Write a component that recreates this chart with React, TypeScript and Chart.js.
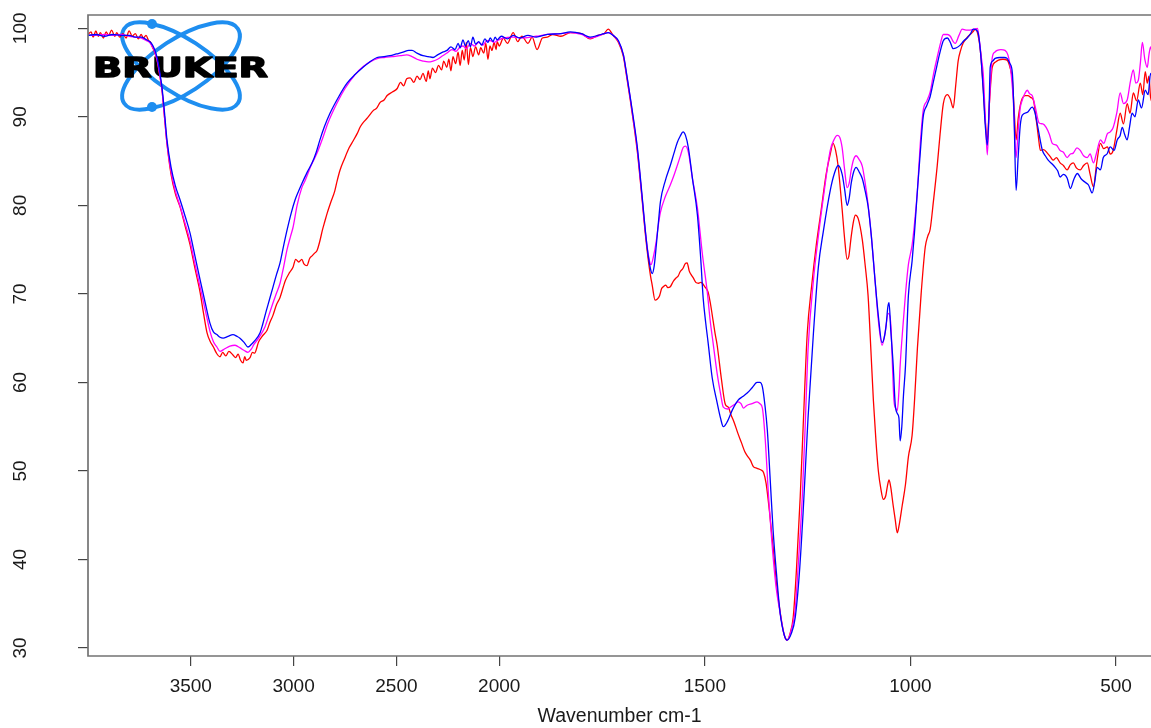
import React, { useEffect, useRef } from 'react';
import { Chart, registerables } from 'chart.js';

Chart.register(...registerables);

// ---------- data ----------
const xTickLabels = [3500, 3000, 2500, 2000, 1500, 1000, 500];
const yTickLabels = [30, 40, 50, 60, 70, 80, 90, 100];
const xTitle = 'Wavenumber cm-1';
const logoText = 'BRUKER';

// [wavenumber cm-1, transmittance %]
const bluePoints: [number, number][] = [
  [4000, 99.2], [3960, 99.3], [3920, 99.1], [3880, 99.3], [3840, 99.2], [3800, 99.2], [3770, 99.0], [3740, 99.0],
  [3715, 98.7], [3700, 98.5], [3689, 98.2], [3676, 97.6], [3664, 96.7], [3652, 95.2], [3640, 93.3], [3628, 90.5],
  [3616, 87.4], [3596, 84.3], [3575, 82.2], [3552, 80.6], [3528, 78.8], [3504, 76.9], [3480, 74.3], [3455, 71.6],
  [3430, 69.0], [3407, 66.7], [3390, 65.7], [3373, 65.4], [3358, 65.1], [3343, 65.0], [3319, 65.2], [3295, 65.4],
  [3275, 65.2], [3261, 65.0], [3240, 64.5], [3222, 64.0], [3205, 64.3], [3193, 64.6], [3163, 65.6], [3150, 66.6],
  [3134, 68.0], [3117, 69.4], [3100, 70.8], [3083, 72.2], [3066, 73.5], [3049, 75.4], [3032, 77.2], [3012, 79.1],
  [2993, 80.6], [2976, 81.6], [2959, 82.5], [2935, 83.7], [2910, 84.8], [2890, 86.0], [2872, 87.4], [2850, 88.9],
  [2823, 90.4], [2780, 92.3], [2740, 93.8], [2700, 94.8], [2662, 95.6], [2630, 96.2], [2594, 96.7], [2560, 96.8],
  [2531, 96.9], [2500, 97.1], [2468, 97.3], [2440, 97.5], [2424, 97.5], [2400, 97.2], [2371, 96.9], [2345, 96.8],
  [2322, 96.7], [2300, 97.0], [2275, 97.3], [2254, 97.5], [2235, 97.9], [2215, 97.6], [2200, 98.3], [2190, 97.8],
  [2176, 98.7], [2165, 98.0], [2150, 98.6], [2140, 97.9], [2128, 99.0], [2115, 98.2], [2100, 98.5], [2085, 98.1],
  [2070, 98.8], [2055, 98.4], [2044, 98.9], [2030, 98.5], [2020, 99.0], [2010, 98.7], [1995, 99.1], [1980, 98.8],
  [1966, 99.2], [1950, 98.9], [1930, 99.2], [1910, 99.0], [1883, 99.3], [1850, 99.4], [1827, 99.6], [1800, 99.4],
  [1779, 99.0], [1760, 99.2], [1745, 99.4], [1735, 99.5], [1723, 99.2], [1710, 98.6], [1698, 97.0], [1690, 94.8],
  [1681, 92.1], [1672, 89.3], [1664, 86.5], [1652, 80.8], [1645, 77.3], [1638, 74.4], [1632, 72.8], [1628, 72.3],
  [1623, 73.2], [1618, 75.5], [1613, 78.0], [1608, 80.4], [1596, 82.8], [1584, 84.5], [1575, 85.9], [1567, 87.1],
  [1560, 87.8], [1553, 88.3], [1547, 87.9], [1540, 86.5], [1530, 83.0], [1518, 78.9], [1510, 74.0], [1504, 69.5],
  [1498, 66.8], [1492, 64.5], [1482, 60.5], [1470, 57.7], [1462, 56.0], [1455, 55.0], [1445, 55.6], [1433, 56.9],
  [1419, 58.0], [1408, 58.4], [1397, 58.8], [1385, 59.4], [1373, 60.0], [1366, 60.0], [1360, 59.5], [1354, 57.5],
  [1348, 54.6], [1341, 49.0], [1334, 43.3], [1325, 38.0], [1317, 34.0], [1307, 31.5], [1300, 30.9], [1290, 31.6],
  [1280, 33.5], [1270, 38.5], [1261, 45.3], [1249, 56.0], [1236, 65.5], [1224, 73.0], [1212, 77.0], [1195, 81.7],
  [1185, 83.6], [1176, 84.5], [1166, 83.5], [1160, 81.8], [1154, 80.0], [1149, 80.8], [1144, 82.5], [1138, 83.8],
  [1132, 84.3], [1125, 83.8], [1117, 83.0], [1110, 81.6], [1103, 79.9], [1095, 76.5], [1086, 71.5], [1078, 67.5],
  [1069, 64.5], [1064, 65.0], [1059, 66.5], [1055, 68.5], [1052, 69.0], [1048, 66.0], [1042, 62.0], [1037, 57.5],
  [1032, 56.5], [1028, 56.0], [1025, 53.4], [1021, 55.0], [1017, 58.5], [1012, 61.9], [1005, 69.8], [996, 73.7],
  [990, 77.0], [983, 81.7], [976, 86.0], [969, 90.0], [960, 91.3], [952, 92.3], [944, 94.0], [935, 95.9],
  [927, 97.5], [920, 98.6], [910, 98.9], [903, 98.4], [896, 97.7], [888, 97.8], [879, 98.1], [870, 98.6],
  [862, 98.9], [855, 99.3], [847, 99.9], [840, 99.8], [835, 99.4], [829, 97.0], [823, 93.0], [818, 89.0],
  [813, 86.8], [809, 90.5], [806, 95.6], [800, 96.3], [794, 96.6], [782, 96.7], [772, 96.7], [765, 96.6],
  [758, 96.0], [752, 94.9], [748, 90.0], [743, 81.7], [738, 85.5], [733, 89.0], [728, 90.2], [716, 90.5],
  [704, 91.1], [698, 90.6], [692, 89.3], [685, 87.5], [679, 86.2], [672, 85.6], [665, 85.1], [656, 84.7],
  [648, 84.3], [642, 83.9], [636, 83.2], [628, 83.5], [619, 83.1], [611, 81.9], [603, 82.9], [594, 83.6],
  [585, 83.0], [575, 82.6], [567, 82.3], [558, 81.4], [552, 82.6], [546, 84.3], [538, 84.0], [531, 85.4],
  [522, 85.8], [514, 86.6], [505, 86.2], [497, 87.4], [490, 87.9], [485, 88.8], [479, 88.0], [473, 87.4],
  [467, 88.9], [461, 90.4], [454, 90.0], [446, 91.9], [438, 91.0], [429, 93.0], [422, 92.5], [416, 94.9],
  [408, 94.0], [400, 95.5],
];

const magentaPoints: [number, number][] = [
  [4000, 99.2], [3960, 99.2], [3920, 99.3], [3880, 99.2], [3840, 99.3], [3800, 99.1], [3770, 99.0], [3740, 98.9],
  [3715, 98.6], [3700, 98.4], [3689, 98.0], [3676, 97.4], [3664, 96.4], [3652, 94.9], [3640, 93.0], [3628, 90.0],
  [3616, 87.0], [3596, 83.8], [3575, 81.6], [3552, 79.9], [3528, 78.0], [3504, 76.0], [3480, 73.4], [3455, 70.8],
  [3430, 68.2], [3407, 65.8], [3390, 64.6], [3373, 64.0], [3358, 63.5], [3335, 63.8], [3310, 64.1], [3285, 64.2],
  [3260, 63.9], [3240, 63.6], [3222, 63.4], [3205, 63.8], [3193, 64.3], [3170, 65.0], [3139, 66.3], [3120, 67.6],
  [3100, 69.0], [3083, 70.1], [3066, 71.2], [3049, 73.0], [3032, 75.0], [3015, 76.5], [3003, 77.5], [2983, 80.0],
  [2960, 82.0], [2944, 82.8], [2915, 84.5], [2886, 85.9], [2860, 87.5], [2833, 89.3], [2790, 91.5], [2750, 93.2],
  [2700, 94.8], [2660, 95.7], [2628, 96.2], [2590, 96.6], [2560, 96.7], [2520, 96.8], [2480, 96.9], [2450, 97.0],
  [2424, 96.8], [2400, 96.5], [2371, 96.3], [2345, 96.2], [2322, 96.3], [2300, 96.5], [2275, 96.9], [2254, 97.2],
  [2230, 97.6], [2210, 97.4], [2190, 97.9], [2176, 98.0], [2160, 97.7], [2140, 98.3], [2120, 98.0], [2100, 98.4],
  [2080, 98.1], [2060, 98.6], [2044, 98.6], [2025, 98.4], [2010, 98.6], [1990, 98.9], [1966, 99.0], [1940, 98.9],
  [1910, 99.1], [1883, 99.3], [1850, 99.4], [1827, 99.5], [1800, 99.3], [1779, 98.9], [1760, 99.1], [1745, 99.4],
  [1735, 99.5], [1723, 99.2], [1710, 98.5], [1698, 97.0], [1690, 94.7], [1681, 92.0], [1672, 89.1], [1664, 86.3],
  [1652, 80.6], [1645, 77.2], [1638, 74.6], [1634, 73.6], [1631, 73.3], [1625, 74.2], [1618, 76.0], [1613, 77.8],
  [1608, 79.2], [1596, 81.0], [1584, 82.3], [1575, 83.4], [1567, 84.5], [1560, 85.5], [1553, 86.5], [1547, 86.7],
  [1540, 86.0], [1530, 83.0], [1518, 79.7], [1506, 74.5], [1494, 70.2], [1487, 67.0], [1480, 64.5], [1470, 61.0],
  [1462, 58.8], [1455, 57.2], [1445, 57.0], [1438, 57.2], [1428, 57.5], [1419, 57.8], [1412, 57.6], [1406, 57.1],
  [1398, 57.4], [1385, 57.6], [1373, 57.8], [1366, 57.6], [1360, 57.1], [1353, 53.5], [1345, 47.1], [1337, 42.0],
  [1327, 37.0], [1317, 34.0], [1307, 31.5], [1300, 30.9], [1290, 32.0], [1280, 34.5], [1272, 40.0], [1263, 47.1],
  [1256, 55.0], [1249, 63.7], [1236, 71.5], [1224, 76.5], [1210, 81.5], [1195, 86.2], [1185, 87.5], [1178, 87.9],
  [1172, 87.7], [1166, 86.5], [1160, 84.0], [1154, 82.0], [1149, 82.5], [1144, 84.0], [1138, 85.2], [1132, 85.6],
  [1125, 85.2], [1117, 84.4], [1110, 82.5], [1103, 80.1], [1095, 76.5], [1086, 71.5], [1078, 67.0], [1069, 64.2],
  [1062, 65.5], [1054, 67.8], [1050, 67.5], [1047, 66.0], [1043, 61.0], [1040, 57.9], [1035, 57.0], [1032, 56.8],
  [1028, 59.0], [1025, 61.9], [1018, 66.5], [1012, 70.0], [1005, 73.3], [996, 75.5], [990, 78.0], [983, 81.7],
  [976, 87.0], [969, 90.7], [960, 91.8], [952, 92.8], [944, 94.8], [935, 96.7], [927, 98.3], [920, 99.3],
  [910, 99.3], [903, 99.1], [896, 98.5], [891, 98.3], [882, 99.2], [874, 99.9], [865, 99.8], [855, 99.8],
  [845, 99.9], [837, 100.0], [832, 98.5], [827, 96.5], [823, 94.9], [818, 90.0], [813, 85.7], [808, 91.5],
  [801, 96.7], [795, 97.3], [789, 97.5], [780, 97.6], [770, 97.5], [763, 97.0], [757, 95.6], [750, 92.0],
  [743, 85.4], [738, 88.5], [733, 91.0], [728, 91.9], [722, 92.6], [716, 93.0], [710, 92.6], [704, 92.4],
  [696, 91.0], [687, 89.3], [678, 89.2], [670, 88.8], [662, 88.0], [655, 87.0], [645, 86.8], [636, 86.2],
  [628, 86.0], [619, 85.4], [611, 85.8], [604, 85.9], [595, 86.5], [587, 86.2], [579, 85.6], [570, 85.4],
  [563, 85.8], [555, 84.8], [547, 86.0], [538, 87.4], [530, 87.0], [521, 88.1], [514, 88.3], [507, 88.8],
  [498, 90.5], [490, 92.7], [482, 91.5], [473, 91.9], [465, 94.0], [458, 95.3], [452, 93.8], [446, 94.1],
  [441, 96.0], [436, 98.4], [430, 96.5], [424, 95.6], [420, 97.0], [416, 97.9], [408, 96.0], [400, 97.0],
];

const redPoints: [number, number][] = [
  [4000, 99.3], [3985, 99.6], [3975, 99.0], [3962, 99.7], [3950, 99.1], [3940, 99.5], [3925, 98.9], [3912, 99.6],
  [3900, 99.2], [3885, 99.8], [3870, 99.1], [3860, 99.5], [3845, 99.0], [3830, 99.4], [3815, 98.9], [3800, 99.7],
  [3785, 99.1], [3770, 99.4], [3755, 98.8], [3742, 99.3], [3730, 98.9], [3718, 99.2], [3705, 98.6], [3695, 98.4],
  [3689, 98.0], [3676, 97.3], [3664, 96.4], [3652, 94.8], [3640, 93.0], [3628, 90.0], [3616, 87.0], [3596, 83.5],
  [3575, 81.3], [3552, 79.8], [3528, 77.7], [3504, 75.6], [3480, 72.9], [3455, 70.2], [3438, 67.8], [3421, 65.6],
  [3405, 64.6], [3390, 64.0], [3375, 63.3], [3358, 62.9], [3345, 63.4], [3330, 63.0], [3315, 63.5], [3295, 63.1],
  [3282, 62.8], [3270, 63.2], [3258, 62.5], [3246, 62.2], [3238, 62.9], [3230, 62.5], [3212, 62.8], [3200, 63.4],
  [3190, 63.3], [3170, 64.6], [3150, 65.3], [3129, 65.9], [3115, 66.8], [3100, 67.6], [3083, 68.8], [3066, 69.6],
  [3050, 70.8], [3040, 71.5], [3020, 72.4], [3003, 73.0], [2990, 73.9], [2975, 73.6], [2960, 73.9], [2950, 73.4],
  [2935, 73.2], [2922, 74.0], [2910, 74.3], [2898, 74.6], [2886, 74.9], [2872, 76.0], [2860, 77.2], [2848, 78.2],
  [2837, 79.1], [2820, 80.3], [2800, 81.6], [2788, 82.8], [2774, 84.0], [2752, 85.3], [2730, 86.5], [2710, 87.3],
  [2691, 88.1], [2675, 88.9], [2660, 89.4], [2640, 89.9], [2613, 90.7], [2595, 91.0], [2580, 91.6], [2560, 91.9],
  [2545, 92.4], [2520, 92.8], [2496, 93.2], [2480, 93.9], [2465, 93.5], [2450, 94.3], [2433, 94.4], [2415, 93.9],
  [2400, 94.6], [2385, 94.2], [2371, 94.9], [2355, 94.0], [2345, 95.2], [2337, 94.3], [2325, 95.5], [2310, 95.0],
  [2295, 95.8], [2280, 95.3], [2270, 96.3], [2255, 95.6], [2245, 96.5], [2235, 95.2], [2225, 96.8], [2212, 96.0],
  [2200, 97.3], [2190, 95.8], [2180, 97.5], [2170, 96.4], [2160, 98.4], [2150, 95.9], [2140, 97.8], [2128, 96.8],
  [2115, 97.9], [2100, 97.0], [2090, 97.8], [2075, 97.2], [2065, 98.3], [2055, 96.5], [2045, 98.0], [2035, 97.5],
  [2025, 98.4], [2015, 97.6], [2010, 98.5], [2000, 98.0], [1990, 98.9], [1980, 98.3], [1966, 99.5], [1955, 98.5],
  [1945, 99.1], [1930, 98.3], [1920, 99.0], [1908, 97.6], [1895, 98.9], [1883, 99.0], [1870, 99.3], [1850, 99.1],
  [1827, 99.5], [1800, 99.4], [1779, 98.8], [1760, 99.2], [1745, 99.4], [1735, 99.9], [1723, 99.2], [1710, 98.4],
  [1698, 96.8], [1690, 94.5], [1681, 91.8], [1672, 88.9], [1664, 86.0], [1652, 80.4], [1645, 76.9], [1638, 74.0],
  [1632, 72.0], [1628, 71.0], [1621, 69.3], [1616, 69.4], [1610, 69.8], [1605, 70.6], [1601, 70.8], [1595, 71.0],
  [1590, 70.7], [1584, 70.8], [1577, 71.4], [1570, 71.8], [1565, 72.0], [1560, 72.5], [1553, 72.9], [1548, 73.4],
  [1543, 73.5], [1538, 72.6], [1535, 72.3], [1528, 71.8], [1522, 71.3], [1515, 71.2], [1510, 71.3], [1506, 71.2],
  [1500, 70.8], [1492, 70.2], [1486, 68.8], [1480, 67.0], [1475, 65.5], [1470, 64.2], [1460, 60.5], [1450, 57.5],
  [1443, 57.2], [1436, 56.3], [1428, 55.4], [1420, 54.3], [1411, 53.2], [1403, 52.2], [1395, 51.6], [1389, 51.2],
  [1382, 50.5], [1373, 50.3], [1363, 50.1], [1357, 49.8], [1351, 48.6], [1343, 45.5], [1334, 41.4], [1325, 37.0],
  [1315, 33.5], [1307, 31.5], [1300, 30.9], [1293, 31.6], [1285, 33.5], [1277, 39.0], [1268, 47.1], [1260, 56.0],
  [1251, 65.5], [1240, 71.0], [1229, 75.5], [1217, 79.5], [1205, 83.5], [1195, 85.8], [1188, 87.0], [1182, 86.2],
  [1176, 84.5], [1166, 79.5], [1160, 76.2], [1154, 73.9], [1150, 74.2], [1144, 76.5], [1138, 78.3], [1134, 78.9],
  [1127, 78.5], [1117, 76.1], [1110, 73.2], [1103, 69.8], [1096, 63.5], [1090, 57.9], [1084, 53.5], [1078, 50.0],
  [1072, 48.0], [1066, 46.8], [1060, 47.2], [1056, 48.3], [1052, 49.0], [1048, 48.2], [1042, 46.1], [1037, 44.5],
  [1032, 43.0], [1027, 44.0], [1020, 46.1], [1012, 48.5], [1005, 51.6], [996, 54.0], [990, 58.0], [983, 63.9],
  [974, 70.0], [964, 75.3], [958, 76.5], [952, 77.3], [944, 80.5], [935, 84.4], [928, 88.0], [920, 91.5],
  [910, 92.5], [903, 92.0], [896, 91.0], [890, 93.5], [884, 96.3], [878, 97.5], [872, 98.3], [863, 98.9],
  [855, 99.3], [848, 99.6], [842, 99.9], [836, 99.3], [830, 97.5], [823, 93.3], [818, 89.5], [813, 87.4],
  [808, 91.5], [801, 95.6], [793, 96.2], [786, 96.4], [775, 96.5], [765, 96.4], [758, 95.6], [752, 94.1],
  [748, 91.0], [743, 87.4], [738, 89.8], [733, 91.3], [728, 92.1], [721, 92.4], [714, 92.4], [708, 92.2],
  [701, 91.9], [695, 90.0], [689, 87.8], [684, 86.2], [676, 86.3], [667, 85.9], [660, 85.5], [653, 85.1],
  [645, 85.4], [636, 84.8], [628, 84.5], [619, 84.0], [611, 84.6], [604, 84.8], [596, 84.2], [587, 84.0],
  [579, 84.5], [570, 84.8], [563, 83.5], [555, 82.1], [547, 84.8], [538, 87.0], [530, 86.4], [521, 86.6],
  [514, 85.8], [507, 86.2], [498, 88.5], [490, 90.4], [482, 89.2], [473, 91.5], [466, 90.4], [458, 92.7],
  [450, 91.8], [441, 93.8], [435, 92.5], [429, 95.1], [424, 93.8], [420, 94.6], [416, 92.2], [408, 91.5],
  [400, 92.5],
];

// OPUS-style axis: the range above 2000 cm-1 is compressed by a factor of 2
const toU = (w: number) => (w >= 2000 ? (2000 - w) / 2 : 2000 - w);
const fromU = (u: number) => (u <= 0 ? 2000 - 2 * u : 2000 - u);
const xLeftEdge = 4000;
const xRightEdge = 415;

const FONT = 'Liberation Sans, Arial, sans-serif';
const TEXT = '#1a1a1a';

const boxPlugin = {
  id: 'boxPlugin',
  afterDatasetsDraw(chart: any) {
    const { ctx, chartArea } = chart;
    ctx.save();
    ctx.strokeStyle = '#737373';
    ctx.lineWidth = 1.7;
    ctx.beginPath();
    ctx.moveTo(chart.width + 2, chartArea.top);
    ctx.lineTo(chartArea.left, chartArea.top);
    ctx.lineTo(chartArea.left, chartArea.bottom);
    ctx.lineTo(chart.width + 2, chartArea.bottom);
    ctx.stroke();
    ctx.restore();
  },
};

const logoPlugin = {
  id: 'logoPlugin',
  beforeDatasetsDraw(chart: any) {
    const { ctx } = chart;
    ctx.save();
    const cx = 181, cy = 66;
    ctx.strokeStyle = '#1e8ef0';
    ctx.fillStyle = '#1e8ef0';
    ctx.lineWidth = 4;
    ctx.beginPath();
    ctx.ellipse(cx, cy, 68, 27, 0.58, 0, Math.PI * 2);
    ctx.stroke();
    ctx.beginPath();
    ctx.ellipse(cx, cy, 68, 27, -0.58, 0, Math.PI * 2);
    ctx.stroke();
    ctx.beginPath();
    ctx.arc(152, 24, 5, 0, Math.PI * 2);
    ctx.fill();
    ctx.beginPath();
    ctx.arc(152, 107, 5, 0, Math.PI * 2);
    ctx.fill();
    ctx.font = 'bold 27px "DejaVu Sans", sans-serif';
    ctx.textBaseline = 'alphabetic';
    ctx.textAlign = 'left';
    const w = ctx.measureText(logoText).width;
    ctx.translate(93, 77);
    ctx.scale(175 / w, 1);
    ctx.fillStyle = '#000';
    ctx.strokeStyle = '#000';
    ctx.lineWidth = 1.4;
    ctx.lineJoin = 'round';
    ctx.fillText(logoText, 0, 0);
    ctx.strokeText(logoText, 0, 0);
    ctx.restore();
  },
};

const toXY = (pts: [number, number][]) => pts.map(([w, t]) => ({ x: toU(w), y: t }));

export default function App() {
  const ref = useRef<HTMLCanvasElement>(null);
  useEffect(() => {
    if (!ref.current) return;
    const ds = (label: string, pts: [number, number][], color: string) => ({
      label,
      data: toXY(pts),
      borderColor: color,
      backgroundColor: color,
      borderWidth: 1.3,
      pointRadius: 0,
      fill: false,
      cubicInterpolationMode: 'monotone' as const,
    });
    const chart = new Chart(ref.current, {
      type: 'line',
      data: {
        datasets: [
          ds('blue', bluePoints, '#0000ff'),
          ds('magenta', magentaPoints, '#ff00ff'),
          ds('red', redPoints, '#ff0000'),
        ],
      },
      options: {
        animation: false,
        responsive: false,
        devicePixelRatio: 1,
        parsing: false as any,
        layout: { padding: { top: 15, left: 0, right: 0, bottom: 0 } },
        plugins: { legend: { display: false }, tooltip: { enabled: false } },
        scales: {
          x: {
            type: 'linear',
            min: toU(xLeftEdge),
            max: toU(xRightEdge),
            afterBuildTicks: (s: any) => {
              s.ticks = xTickLabels.map((w) => ({ value: toU(w) }));
            },
            afterFit: (s: any) => {
              s.height = 72;
              s.paddingLeft = 0;
              s.paddingRight = 0;
            },
            ticks: {
              autoSkip: false,
              maxRotation: 0,
              padding: 9,
              color: TEXT,
              font: { family: FONT, size: 19 },
              callback: (v: any) => String(Math.round(fromU(Number(v)))),
            },
            grid: { drawOnChartArea: false, drawTicks: true, tickLength: 10, color: '#444', lineWidth: 1.2 },
            border: { display: false },
            title: {
              display: true,
              text: xTitle,
              color: TEXT,
              font: { family: FONT, size: 19.5 },
              padding: { top: 0, bottom: 0 },
            },
          },
          y: {
            type: 'linear',
            min: 29.1,
            max: 101.5,
            afterBuildTicks: (s: any) => {
              s.ticks = yTickLabels.map((v) => ({ value: v }));
            },
            afterFit: (s: any) => {
              s.width = 88;
              s.paddingTop = 0;
              s.paddingBottom = 0;
            },
            ticks: {
              minRotation: 90,
              maxRotation: 90,
              crossAlign: 'center',
              padding: 41,
              color: TEXT,
              font: { family: FONT, size: 19 },
            },
            grid: { drawOnChartArea: false, drawTicks: true, tickLength: 10, color: '#444', lineWidth: 1.2 },
            border: { display: false },
          },
        },
      },
      plugins: [logoPlugin, boxPlugin],
    });
    return () => chart.destroy();
  }, []);
  return (
    <div style={{ position: 'absolute', left: 0, top: 0, width: 1151, height: 728, background: '#fff' }}>
      <canvas ref={ref} width={1151} height={728} style={{ display: 'block' }} />
    </div>
  );
}
